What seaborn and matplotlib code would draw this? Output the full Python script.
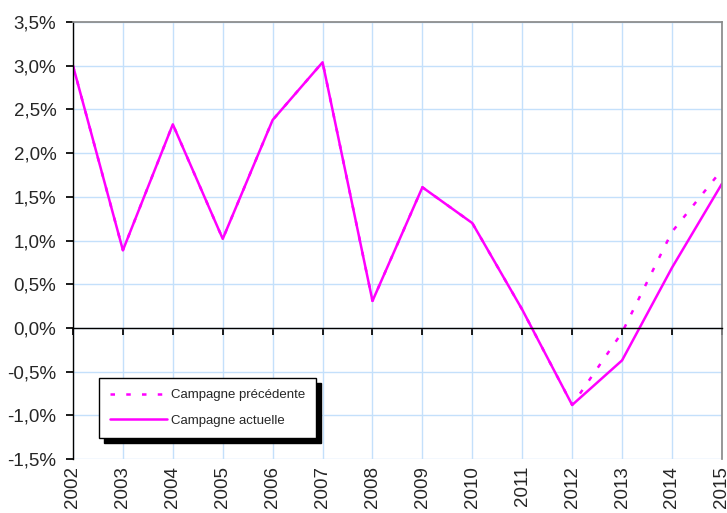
import numpy as np
import pandas as pd
import matplotlib
matplotlib.use("Agg")
import matplotlib.pyplot as plt
import seaborn as sns
from matplotlib.ticker import FuncFormatter, MultipleLocator

years = list(range(2002, 2016))
actuelle = [3.0, 0.89, 2.33, 1.02, 2.38, 3.04, 0.31, 1.61, 1.2, 0.21, -0.88, -0.37, 0.69, 1.65]
precedente = [3.0, 0.89, 2.33, 1.02, 2.38, 3.04, 0.31, 1.61, 1.2, 0.21, -0.88, -0.05, 1.10, 1.81]

sns.set_theme(style="white")
plt.rcParams['font.family'] = ['Liberation Sans', 'DejaVu Sans']

df = pd.DataFrame({'annee': years, 'Campagne précédente': precedente,
                   'Campagne actuelle': actuelle})

fig = plt.figure(figsize=(7.27, 5.13), dpi=100)
ax = fig.add_axes([0.1004, 0.105, 0.8926, 0.852])

magenta = '#ff00ff'
sns.lineplot(data=df, x='annee', y='Campagne précédente', ax=ax, color=magenta,
             lw=1.8, linestyle=(0, (1.8, 4.5)), label='Campagne précédente')
sns.lineplot(data=df, x='annee', y='Campagne actuelle', ax=ax, color=magenta,
             lw=1.8, label='Campagne actuelle')

ax.set_xlim(2002, 2015)
ax.set_ylim(-1.5, 3.5)
ax.yaxis.set_major_locator(MultipleLocator(0.5))
ax.yaxis.set_major_formatter(FuncFormatter(lambda v, p: ('%.1f%%' % v).replace('.', ',')))
ax.set_xticks(years)
ax.grid(True, color='#c4e0fb', lw=1)
ax.set_axisbelow(True)
ax.set_xlabel('')
ax.set_ylabel('')

# axe des x sur le zero
ax.spines['bottom'].set_position(('data', 0))
ax.spines['bottom'].set_color('black')
ax.spines['bottom'].set_linewidth(1)
ax.spines['left'].set_color('black')
ax.spines['left'].set_linewidth(1)
ax.spines['top'].set_color('#8a8a8a')
ax.spines['right'].set_color('#8a8a8a')
ax.tick_params(axis='x', bottom=True, direction='out', length=5, color='black', labelbottom=False)
ax.tick_params(axis='y', left=True, direction='out', length=5, color='black', labelsize=13.5, pad=7)

ax2 = ax.secondary_xaxis(0.0)
ax2.set_xticks(years)
ax2.set_xticklabels([str(y) for y in years], rotation=90, fontsize=13.5)
ax2.tick_params(length=0, pad=5)
ax2.spines['bottom'].set_visible(False)

leg = ax.legend(loc='upper left', bbox_to_anchor=(99 / 727, 1 - 378 / 513),
                bbox_transform=fig.transFigure, fontsize=9.5, handlelength=4.3,
                frameon=True, fancybox=False, edgecolor='black', framealpha=1,
                borderpad=0.85, labelspacing=1.0, handletextpad=0.3, borderaxespad=0,
                shadow={'ox': 3.6, 'oy': -3.6, 'color': 'black', 'alpha': 1})
leg.get_frame().set_linewidth(1)

fig.savefig('out.png', dpi=100)
